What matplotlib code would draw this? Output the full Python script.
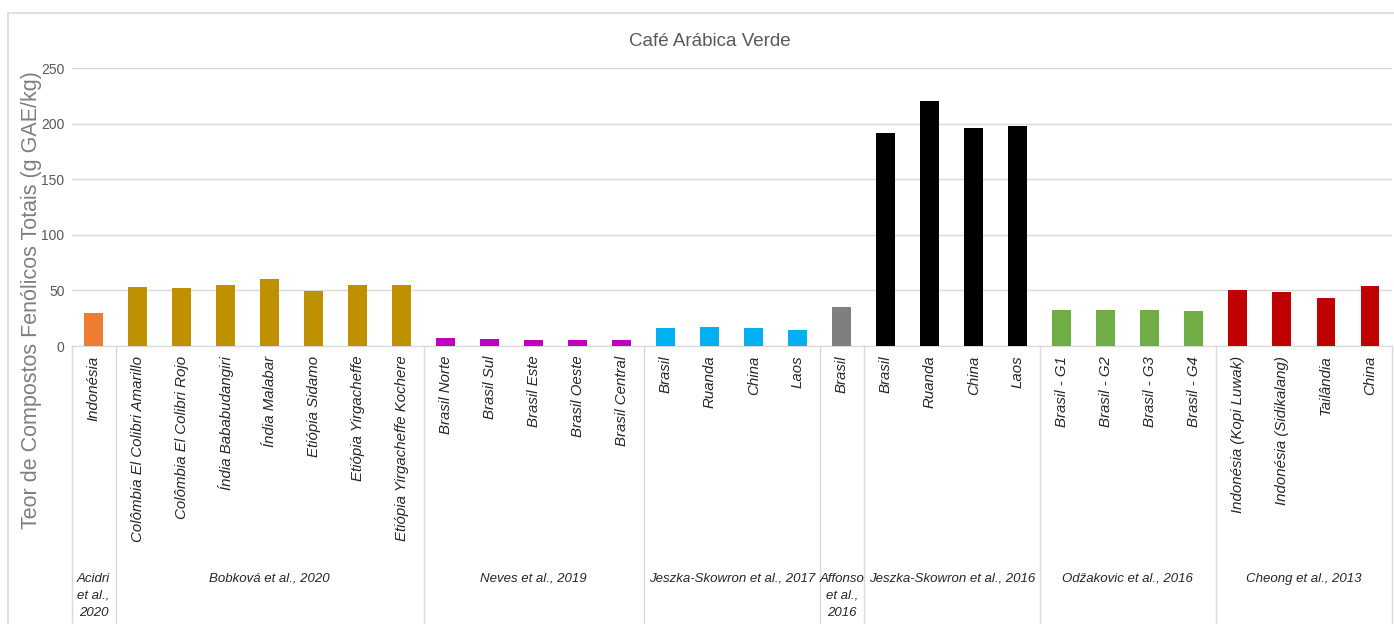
import numpy as np
import matplotlib.pyplot as plt
from matplotlib.patches import Rectangle

plt.rcParams['font.family'] = ['Liberation Sans', 'DejaVu Sans']

# dados: categorias, valores e grupos (referências)
categorias = ['Indonésia',
              'Colômbia El Colibri Amarillo', 'Colômbia El Colibri Rojo', 'Índia Bababudangiri',
              'Índia Malabar', 'Etiópia Sidamo', 'Etiópia Yirgacheffe', 'Etiópia Yirgacheffe Kochere',
              'Brasil Norte', 'Brasil Sul', 'Brasil Este', 'Brasil Oeste', 'Brasil Central',
              'Brasil', 'Ruanda', 'China', 'Laos',
              'Brasil',
              'Brasil', 'Ruanda', 'China', 'Laos',
              'Brasil - G1', 'Brasil - G2', 'Brasil - G3', 'Brasil - G4',
              'Indonésia (Kopi Luwak)', 'Indonésia (Sidikalang)', 'Tailândia', 'China']
valores = [29.5,
           53.3, 52.4, 54.6, 60.3, 49.5, 54.6, 55.2,
           7.2, 6.3, 5.7, 5.7, 5.7,
           15.9, 17.1, 15.9, 14.4,
           35.4,
           191.5, 220.0, 196.0, 197.5,
           32.1, 32.7, 32.7, 31.2,
           50.1, 48.6, 43.5, 53.7]
grupos = ['Acidri\net al.,\n2020', 'Bobková et al., 2020', 'Neves et al., 2019',
          'Jeszka-Skowron et al., 2017', 'Affonso\net al.,\n2016', 'Jeszka-Skowron et al., 2016',
          'Odžakovic et al., 2016', 'Cheong et al., 2013']
tamanhos = [1, 7, 5, 4, 1, 4, 4, 4]
cores_grupo = ['#ED7D31', '#BF9000', '#C000C0', '#00B0F0', '#7F7F7F', '#000000', '#70AD47', '#C00000']

W, H = 1394, 624
fig = plt.figure(figsize=(W / 100, H / 100), dpi=100)
ax = fig.add_axes([71.5 / W, (H - 346) / H, (1392 - 71.5) / W, (346 - 68) / H])

# moldura do gráfico
fig.patches.append(Rectangle((8 / W, -0.05), 1.0, (H - 13) / H + 0.05, transform=fig.transFigure,
                             fill=False, edgecolor='#D9D9D9', linewidth=1.2))

cores = []
for cor, n in zip(cores_grupo, tamanhos):
    cores += [cor] * n
x = np.arange(len(categorias))
ax.bar(x, valores, width=0.43, color=cores, zorder=3)

ax.set_xlim(-0.5, len(categorias) - 0.5)
ax.set_ylim(0, 250)
ax.set_yticks(np.arange(0, 251, 50))
ax.grid(axis='y', color='#D9D9D9', linewidth=1)
for s in ['top', 'right', 'left']:
    ax.spines[s].set_visible(False)
ax.spines['bottom'].set_color('#D9D9D9')
ax.tick_params(axis='y', length=0, pad=5, labelsize=10, labelcolor='#595959')
ax.set_xticks(x)
ax.set_xticklabels(categorias, rotation=90, fontstyle='italic', fontsize=10.8,
                   color='#262626', va='top', ha='center')
ax.tick_params(axis='x', length=0, pad=7)

# separadores e rótulos dos grupos
limites = np.concatenate([[0], np.cumsum(tamanhos)]) - 0.5
trans = ax.get_xaxis_transform()
for b in limites:
    ax.plot([b, b], [0, -1.05], color='#D9D9D9', linewidth=1, transform=trans, clip_on=False)
for i, g in enumerate(grupos):
    centro = (limites[i] + limites[i + 1]) / 2
    ax.text(centro, -0.815, g, transform=trans, ha='center', va='top', fontstyle='italic',
            fontsize=9.5, color='#262626', linespacing=1.6)

ax.set_ylabel('Teor de Compostos Fenólicos Totais (g GAE/kg)', fontsize=15.5, color='#7F7F7F')
ax.yaxis.set_label_coords(-0.0225, 0.165)
fig.text(710 / W, 1 - 41 / H, 'Café Arábica Verde', ha='center', va='center',
         fontsize=13.5, color='#595959')

fig.savefig('out.png', dpi=100)
